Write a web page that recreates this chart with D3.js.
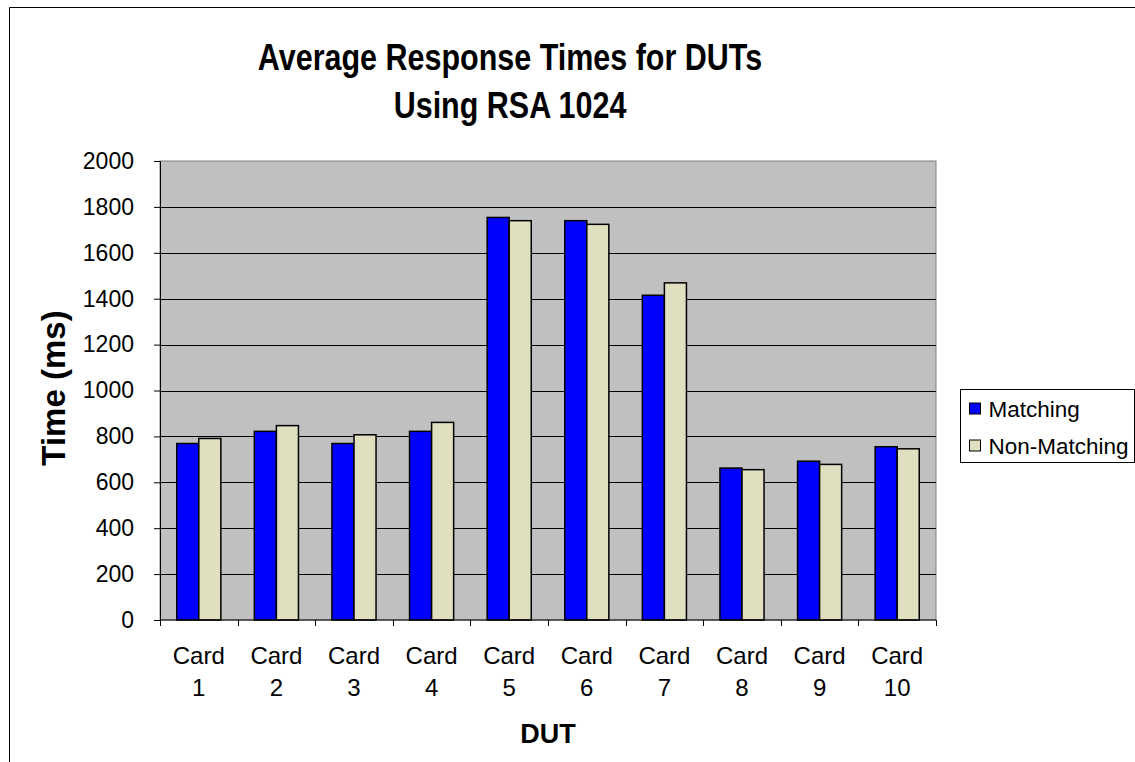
<!DOCTYPE html>
<html>
<head>
<meta charset="utf-8">
<script src="https://d3js.org/d3.v7.min.js"></script>
<style>
  body { margin: 0; background: #fff; }
  text { font-family: "Liberation Sans", Arial, sans-serif; fill: #000; }
</style>
</head>
<body>
<div id="chart"></div>
<script>
// data
var cards = ["Card 1", "Card 2", "Card 3", "Card 4", "Card 5", "Card 6", "Card 7", "Card 8", "Card 9", "Card 10"];
var series = ["Matching", "Non-Matching"];
var matching = [769, 822, 769, 822, 1754, 1740, 1415, 662, 692, 755];
var nonMatching = [791, 847, 807, 861, 1740, 1724, 1469, 655, 678, 746];
var yTicks = [0, 200, 400, 600, 800, 1000, 1200, 1400, 1600, 1800, 2000];
var colors = ["#0000ff", "#e0e0c0"];

var W = 1135, H = 762;
var plot = { left: 160, right: 936, top: 161, bottom: 620 };

var svg = d3.select("#chart").append("svg")
    .attr("width", W)
    .attr("height", H);

// chart border (runs off the right and bottom of the picture)
svg.append("path")
    .attr("d", "M9.5," + H + "V7.5H" + (W + 10))
    .attr("fill", "none")
    .attr("stroke", "#000");

// scales
var x0 = d3.scaleBand()
    .domain(cards)
    .range([plot.left, plot.right]);
var x1 = d3.scaleBand()
    .domain(series)
    .range([0, x0.bandwidth()])
    .paddingInner(0)
    .paddingOuter(0.76);
var y = d3.scaleLinear()
    .domain([0, 2000])
    .range([plot.bottom, plot.top]);

// plot area
svg.append("rect")
    .attr("x", plot.left)
    .attr("y", plot.top)
    .attr("width", plot.right - plot.left)
    .attr("height", plot.bottom - plot.top)
    .attr("fill", "#c0c0c0")
    .attr("stroke", "#808080");

// gridlines
svg.selectAll(".grid")
    .data(yTicks.filter(function (d) { return d > 0 && d < 2000; }))
    .enter().append("line")
    .attr("class", "grid")
    .attr("x1", plot.left)
    .attr("x2", plot.right)
    .attr("y1", function (d) { return Math.round(y(d)) + 0.5; })
    .attr("y2", function (d) { return Math.round(y(d)) + 0.5; })
    .attr("stroke", "#000");

// bars
var rows = cards.map(function (c, i) {
    return { card: c, values: [matching[i], nonMatching[i]] };
});

var groups = svg.selectAll(".card")
    .data(rows)
    .enter().append("g")
    .attr("class", "card")
    .attr("transform", function (d) { return "translate(" + x0(d.card) + ",0)"; });

groups.selectAll("rect")
    .data(function (d) {
        return series.map(function (s, j) { return { key: s, idx: j, value: d.values[j] }; });
    })
    .enter().append("rect")
    .attr("x", function (d) { return x1(d.key); })
    .attr("width", x1.bandwidth())
    .attr("y", function (d) { return y(d.value); })
    .attr("height", function (d) { return plot.bottom - y(d.value); })
    .attr("fill", function (d) { return colors[d.idx]; })
    .attr("stroke", "#000")
    .attr("stroke-width", 1.5);

// y axis
var yAxis = svg.append("g")
    .attr("transform", "translate(" + plot.left + ",0)")
    .call(d3.axisLeft(y).tickValues(yTicks).tickFormat(d3.format("d")).tickSize(6).tickPadding(20));
yAxis.select(".domain").attr("stroke", "#000");
yAxis.selectAll("text")
    .style("font-size", "23px")
    .style("font-family", "'Liberation Sans', Arial, sans-serif");

// x axis: ticks sit on the category boundaries
var bounds = cards.map(function (c) { return x0(c); }).concat([plot.right]);
var xAxis = svg.append("g")
    .attr("transform", "translate(0," + plot.bottom + ")");
xAxis.append("line")
    .attr("x1", plot.left)
    .attr("x2", plot.right)
    .attr("stroke", "#000");
xAxis.selectAll(".xtick")
    .data(bounds)
    .enter().append("line")
    .attr("class", "xtick")
    .attr("x1", function (d) { return Math.round(d) + 0.5; })
    .attr("x2", function (d) { return Math.round(d) + 0.5; })
    .attr("y1", 0)
    .attr("y2", 6)
    .attr("stroke", "#000");

// category labels on two lines
var catLabels = svg.selectAll(".cat")
    .data(cards)
    .enter().append("text")
    .attr("class", "cat")
    .attr("text-anchor", "middle")
    .style("font-size", "24px");
catLabels.append("tspan")
    .attr("x", function (d) { return x0(d) + x0.bandwidth() / 2; })
    .attr("y", 664)
    .text(function (d) { return d.split(" ")[0]; });
catLabels.append("tspan")
    .attr("x", function (d) { return x0(d) + x0.bandwidth() / 2; })
    .attr("y", 696)
    .text(function (d) { return d.split(" ")[1]; });

// axis titles
svg.append("text")
    .attr("x", (plot.left + plot.right) / 2)
    .attr("y", 743)
    .attr("text-anchor", "middle")
    .style("font-size", "27px")
    .style("font-weight", "bold")
    .text("DUT");

svg.append("text")
    .attr("transform", "translate(65," + 388 + ") rotate(-90)")
    .attr("text-anchor", "middle")
    .style("font-size", "33px")
    .style("font-weight", "bold")
    .text("Time (ms)");

// title
var titleLines = ["Average Response Times for DUTs", "Using RSA 1024"];
svg.selectAll(".title")
    .data(titleLines)
    .enter().append("text")
    .attr("class", "title")
    .attr("transform", function (d, i) { return "translate(510," + (70 + i * 48) + ") scale(1,1.2)"; })
    .attr("text-anchor", "middle")
    .style("font-size", "30.5px")
    .style("font-weight", "bold")
    .text(function (d) { return d; });

// legend
var legend = svg.append("g")
    .attr("transform", "translate(960.5,389.5)");
legend.append("rect")
    .attr("width", 174)
    .attr("height", 73)
    .attr("fill", "#fff")
    .attr("stroke", "#000");
var items = legend.selectAll(".item")
    .data(series)
    .enter().append("g")
    .attr("class", "item")
    .attr("transform", function (d, i) { return "translate(0," + (19 + i * 37) + ")"; });
items.append("rect")
    .attr("x", 9)
    .attr("y", -5.5)
    .attr("width", 11)
    .attr("height", 11)
    .attr("fill", function (d, i) { return colors[i]; })
    .attr("stroke", "#000");
items.append("text")
    .attr("x", 28)
    .attr("dy", "0.36em")
    .style("font-size", "22.5px")
    .text(function (d) { return d; });
</script>
</body>
</html>
